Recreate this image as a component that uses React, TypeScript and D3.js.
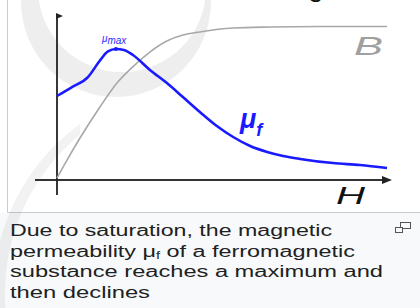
import React from "react";
import * as d3 from "d3";

// permeability curve mu_f(H)
const muH = [0, 4.5, 9.3, 12.9, 15.3, 17.7, 20.1, 22.8, 27.9, 33.0, 37.8, 42.9, 48.0, 52.9, 58.0, 63.1, 67.9, 73.0, 82.9, 91.0, 99.1];
const muValues = [0.506, 0.56, 0.62, 0.72, 0.775, 0.789, 0.783, 0.753, 0.663, 0.584, 0.5, 0.41, 0.325, 0.259, 0.205, 0.169, 0.145, 0.127, 0.102, 0.09, 0.072];

// flux density curve B(H)
const bH = [0, 3.0, 6.9, 12.9, 18.0, 24.0, 27.9, 33.0, 37.8, 42.9, 52.9, 64.0, 79.0, 99.1];
const bValues = [0.012, 0.12, 0.253, 0.44, 0.584, 0.705, 0.771, 0.837, 0.873, 0.892, 0.916, 0.922, 0.925, 0.925];

const captionLines = [
  ["Due to saturation, the magnetic"],
  ["permeability \u03bc", "f", " of a ferromagnetic"],
  ["substance reaches a maximum and"],
  ["then declines"],
];
const captionWidths = [322, 345, 373, 140];

const W = 420;
const H = 308;

export default function App() {
  const x = d3.scaleLinear().domain([0, 100]).range([57, 390]);
  const y = d3.scaleLinear().domain([0, 1]).range([180, 14]);

  const line = d3
    .line<[number, number]>()
    .x((d) => x(d[0]))
    .y((d) => y(d[1]))
    .curve(d3.curveMonotoneX);

  const muPath = line(muH.map((h, i) => [h, muValues[i]]));
  const bPath = line(bH.map((h, i) => [h, bValues[i]]));

  const peakIdx = d3.maxIndex(muValues);
  const px = x(muH[peakIdx]);
  const py = y(muValues[peakIdx]);

  const x0 = x(0);
  const y0 = y(0);
  const xEnd = x(100);
  const yTop = y(1);

  return (
    <div style={{ position: "fixed", left: 0, top: 0 }}>
      <svg width={W} height={H} style={{ display: "block" }} fontFamily="Liberation Sans, Arial, sans-serif">
        <defs>
          <clipPath id="wm2">
            <rect x={0} y={118} width={80} height={200} />
          </clipPath>
        </defs>
        <rect x={0} y={0} width={W} height={H} fill="#fff" />
        <rect x={0} y={213} width={W} height={H - 213} fill="#f8f9fa" />
        {/* image frame */}
        <line x1={7.5} y1={0} x2={7.5} y2={212.5} stroke="#c8ccd1" />
        <line x1={7.5} y1={212.5} x2={W} y2={212.5} stroke="#c8ccd1" />

        {/* faded watermark */}
        <path
          d="M 21 2 a 95 95 0 1 0 190 0 a 95 95 0 1 0 -190 0 Z M 38 -12 a 84 84 0 1 0 168 0 a 84 84 0 1 0 -168 0 Z"
          fill="#000"
          fillOpacity={0.065}
          fillRule="evenodd"
        />
        <path
          clipPath="url(#wm2)"
          d="M -7 295 a 212 212 0 1 0 424 0 a 212 212 0 1 0 -424 0 Z M 5 294 a 207 207 0 1 0 414 0 a 207 207 0 1 0 -414 0 Z"
          fill="#000"
          fillOpacity={0.05}
          fillRule="evenodd"
        />

        {/* cut-off heading */}
        <text x={308} y={-4} fontSize={28} fill="#111">g</text>

        {/* axes */}
        <line x1={35} y1={y0} x2={xEnd - 4} y2={y0} stroke="#333" strokeWidth={1.8} />
        <path d={`M ${xEnd + 2} ${y0} L ${xEnd - 8} ${y0 - 4} L ${xEnd - 8} ${y0 + 4} Z`} fill="#222" />
        <line x1={x0} y1={195} x2={x0} y2={yTop + 3} stroke="#222" strokeWidth={1.8} />
        <path d={`M ${x0 - 1} ${yTop - 1} L ${x0 + 6} ${yTop + 2} L ${x0 - 1} ${yTop + 5} Z`} fill="#222" />

        {/* curves */}
        <path d={bPath ?? ""} fill="none" stroke="#a8a8a8" strokeWidth={1.6} />
        <path d={muPath ?? ""} fill="none" stroke="#1a1aff" strokeWidth={2.6} />
        <circle cx={px} cy={py} r={2} fill="#1a1aff" />

        {/* labels */}
        <text x={px - 14} y={py - 7} fill="#2a2aff" fontSize={10} fontStyle="italic">
          {"\u03bc"}
          <tspan dy={2}>max</tspan>
        </text>
        <text x={354} y={55} fill="#a0a0a0" fontSize={26} fontStyle="italic" textLength={29} lengthAdjust="spacingAndGlyphs">B</text>
        <text x={240} y={128} fill="#1a1aff" fontSize={27} fontWeight="bold" fontStyle="italic">
          {"\u03bc"}
          <tspan dy={8} fontSize={18}>f</tspan>
        </text>
        <text x={336} y={204} fill="#111" fontSize={24} fontStyle="italic" textLength={29} lengthAdjust="spacingAndGlyphs">H</text>

        {/* caption */}
        {captionLines.map((parts, i) => (
          <text
            key={i}
            x={10}
            y={236 + i * 20.5}
            fontSize={16}
            fill="#202122"
            textLength={captionWidths[i]}
            lengthAdjust="spacingAndGlyphs"
          >
            {parts.length === 1 ? (
              parts[0]
            ) : (
              <>
                {parts[0]}
                <tspan fontSize={10} dy={2}>{parts[1]}</tspan>
                <tspan dy={-2}>{parts[2]}</tspan>
              </>
            )}
          </text>
        ))}
        {/* enlarge icon */}
        <rect x={400.5} y={222.5} width={10} height={6} fill="none" stroke="#555" />
        <rect x={395.5} y={227.5} width={7} height={5} fill="#f8f9fa" stroke="#555" />
      </svg>
    </div>
  );
}
